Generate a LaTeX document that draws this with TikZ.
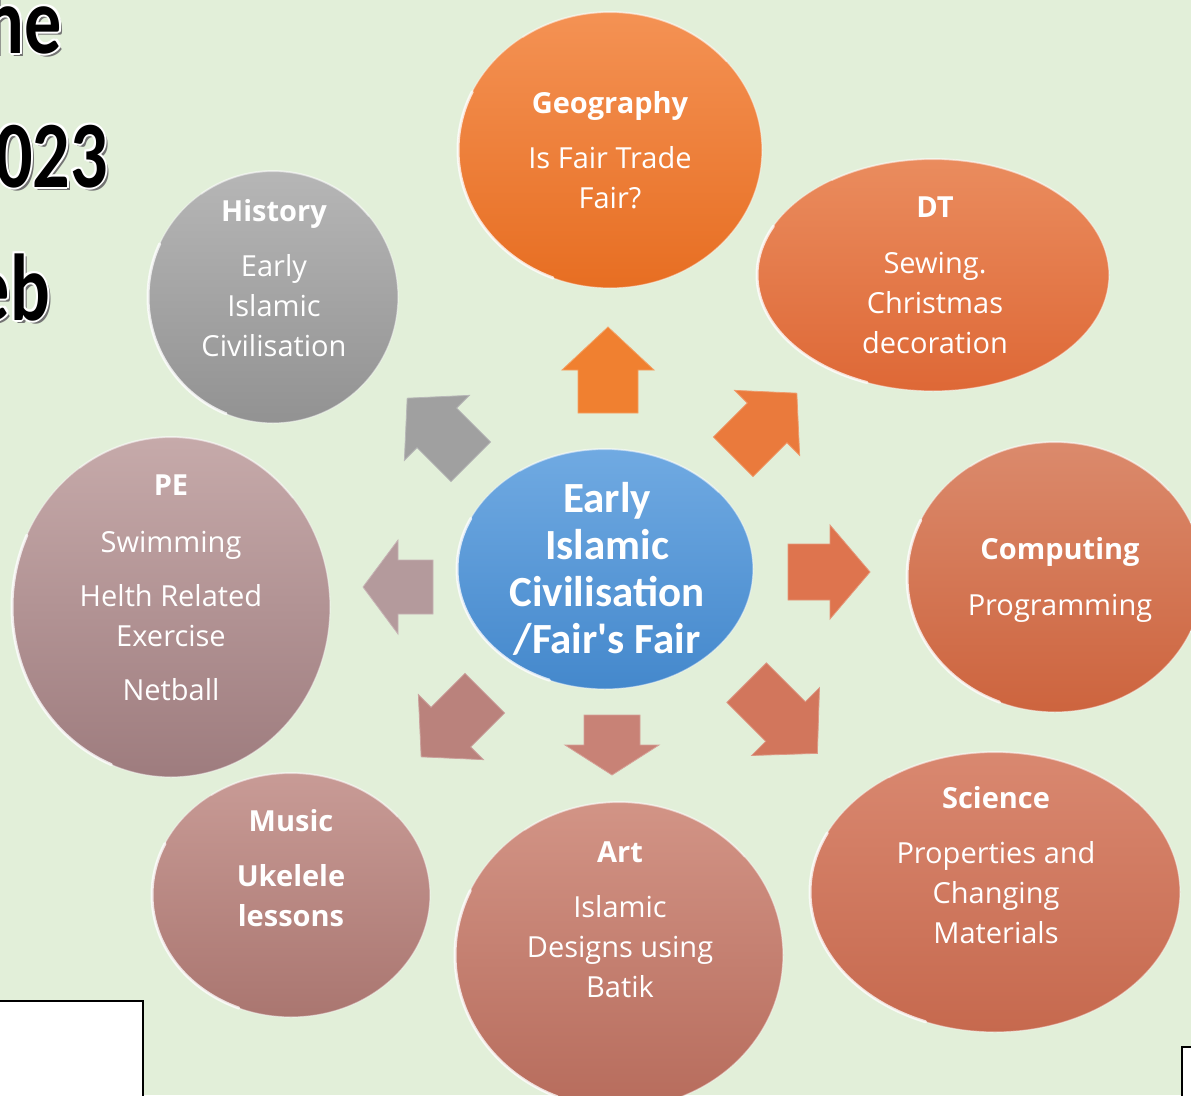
\documentclass[tikz,border=0pt]{standalone}
\usepackage{fontspec}
\usepackage{graphicx}
\setmainfont{Open Sans}
\newfontfamily\calib{Carlito}
\usetikzlibrary{shapes.geometric,calc}

\definecolor{bg}{RGB}{226,239,217}
\definecolor{geoT}{RGB}{244,146,84}\definecolor{geoB}{RGB}{231,110,34}
\definecolor{dtT}{RGB}{234,140,94}\definecolor{dtB}{RGB}{222,104,54}
\definecolor{compT}{RGB}{219,138,108}\definecolor{compB}{RGB}{205,100,62}
\definecolor{sciT}{RGB}{217,136,112}\definecolor{sciB}{RGB}{198,105,78}
\definecolor{artT}{RGB}{210,148,134}\definecolor{artB}{RGB}{183,108,92}
\definecolor{musT}{RGB}{200,155,150}\definecolor{musB}{RGB}{170,118,112}
\definecolor{peT}{RGB}{198,170,170}\definecolor{peB}{RGB}{158,124,126}
\definecolor{hisT}{RGB}{182,182,182}\definecolor{hisB}{RGB}{146,146,146}
\definecolor{cenT}{RGB}{112,170,226}\definecolor{cenB}{RGB}{68,136,204}
\definecolor{aUp}{RGB}{240,128,48}
\definecolor{aUR}{RGB}{234,122,60}
\definecolor{aR}{RGB}{222,116,78}
\definecolor{aDR}{RGB}{210,118,92}
\definecolor{aD}{RGB}{200,130,118}
\definecolor{aDL}{RGB}{186,130,124}
\definecolor{aL}{RGB}{180,154,156}
\definecolor{aUL}{RGB}{160,160,160}

\tikzset{
  bubble/.style={ellipse, inner sep=0pt, draw=white, draw opacity=0.45, line width=1.2pt},
  rim/.style={white, line width=3pt, opacity=0.75, line cap=round},
  toprim/.style={white, line width=2pt, opacity=0.35, line cap=round},
  lbl/.style={text=white, align=center, anchor=base, font=\fontsize{29}{40}\selectfont},
  bigtxt/.style={anchor=base east, inner sep=0pt, font=\calib\bfseries\fontsize{95}{95}\selectfont},
  blockarr/.style={line join=miter, line width=0.8pt},
  whitebox/.style={draw=black, fill=white, line width=2.5pt}
}

\newcommand\mybub[7]{%
  \node[bubble, minimum width=#4*2pt, minimum height=#5*2pt, top color=#6, bottom color=#7] (#1) at (#2,#3) {};
  \draw[rim] ($(#1.center)+({#4*cos(112)},{#5*sin(112)})$) arc[start angle=112, end angle=205, x radius=#4, y radius=#5];
  \draw[toprim] ($(#1.center)+({#4*cos(235)},{#5*sin(235)})$) arc[start angle=235, end angle=320, x radius=#4, y radius=#5];
}
% cx cy angle L h H s color
\newcommand\myarrow[8]{%
  \filldraw[blockarr, fill=#8, draw=#8!75!white, shift={(#1,#2)}, rotate=#3]
    (-#4/2,-#7) -- (#4/2-#5,-#7) -- (#4/2-#5,-#6) -- (#4/2,0) -- (#4/2-#5,#6) -- (#4/2-#5,#7) -- (-#4/2,#7) -- cycle;
}
\newcommand\outlined[4]{% name x y text
  \node[bigtxt, text=black!55] at (#2+3,#3+3) {#4};
  \foreach \dx/\dy in {2/0,-2/0,0/2,0/-2,1.5/1.5,-1.5/1.5,1.5/-1.5,-1.5/-1.5}
    \node[bigtxt, text=white] at (#2+\dx,#3+\dy) {#4};
  \node[bigtxt, text=black] (#1) at (#2,#3) {#4};
}

\begin{document}
\begin{tikzpicture}[x=1pt,y=-1pt]
\useasboundingbox (0,0) rectangle (1191,1095);
\clip (0,0) rectangle (1191,1095);
\fill[bg] (0,0) rectangle (1191,1095);

% cut-off title text on the left
\outlined{t1}{62}{53}{\scalebox{0.78}[1]{The}}
\outlined{t2}{108}{187}{\scalebox{0.78}[1]{2023}}
\outlined{t3}{50}{320}{\scalebox{0.78}[1]{Web}}

% bubbles
\mybub{geo}{610}{150}{152}{138}{geoT}{geoB}
\mybub{dt}{933}{275}{176}{116}{dtT}{dtB}
\mybub{comp}{1055}{577}{148}{135}{compT}{compB}
\mybub{sci}{995}{892}{185}{140}{sciT}{sciB}
\mybub{art}{619}{955}{164}{153}{artT}{artB}
\mybub{mus}{291}{895}{139}{122}{musT}{musB}
\mybub{pe}{171}{607}{159}{170}{peT}{peB}
\mybub{his}{273}{297}{125}{126}{hisT}{hisB}
\mybub{cen}{605}{569}{148}{120}{cenT}{cenB}

% arrows
\myarrow{608}{370}{90}{86}{43}{46}{30}{aUp}
\myarrow{765}{425}{45}{90}{42}{46}{28}{aUR}
\myarrow{829}{572}{0}{82}{40}{47}{28}{aR}
\myarrow{782}{718}{-45}{100}{45}{48}{28}{aDR}
\myarrow{612}{745}{-90}{60}{30}{47}{28}{aD}
\myarrow{453}{725}{-135}{90}{42}{46}{28}{aDL}
\myarrow{398}{587}{180}{70}{35}{47}{27}{aL}
\myarrow{439}{430}{135}{90}{42}{46}{28}{aUL}

% texts (anchor = baseline of the last line)
\node[lbl] (geoL) at (610,208) {\textbf{Geography}\\[15pt]Is Fair Trade\\Fair?};
\node[lbl] (dtL) at (935,353) {\textbf{DT}\\[16pt]Sewing.\\Christmas\\decoration};
\node[lbl] (compL) at (1060,615) {\textbf{Computing}\\[16pt]Programming};
\node[lbl] (sciL) at (996,943) {\textbf{Science}\\[15pt]Properties and\\Changing\\Materials};
\node[lbl] (artL) at (620,997) {\textbf{Art}\\[15pt]Islamic\\Designs using\\Batik};
\node[lbl] (musL) at (291,926) {\textbf{Music}\\[15pt]\textbf{Ukelele}\\\textbf{lessons}};
\node[lbl] (peL) at (171,700) {\textbf{PE}\\[17pt]Swimming\\[14pt]Helth Related\\Exercise\\[14pt]Netball};
\node[lbl] (hisL) at (274,356) {\textbf{History}\\[15pt]Early\\Islamic\\Civilisation};
\node[text=white, align=center, anchor=base, font=\calib\bfseries\fontsize{43}{47}\selectfont] (cenL) at (607,653) {Early\\Islamic\\Civilisation\\/Fair's Fair};

% boxes at the bottom
\draw[whitebox] (-10,1001) rectangle (143,1110);
\draw[whitebox] (1182,1047) rectangle (1210,1110);
\end{tikzpicture}
\end{document}
